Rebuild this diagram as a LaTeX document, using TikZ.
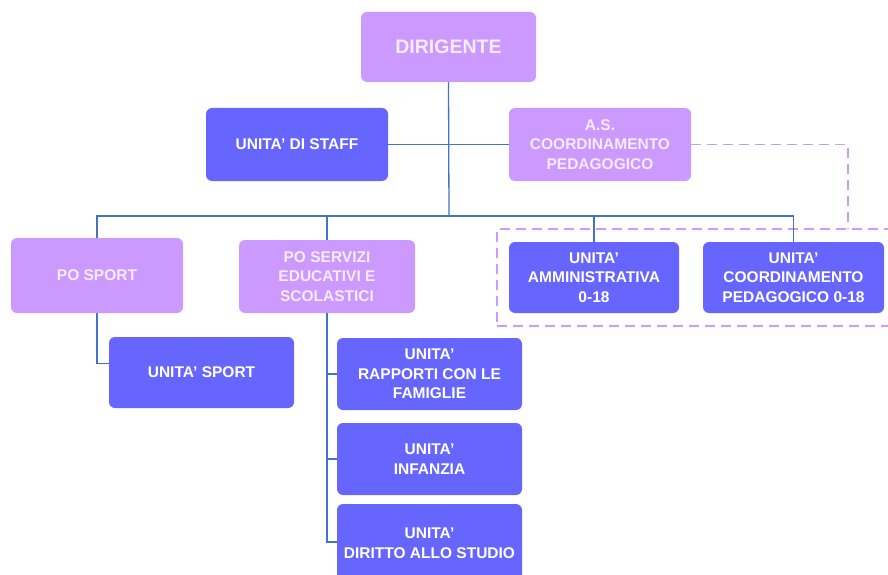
\documentclass[tikz,border=0pt]{standalone}
\usepackage{fontspec}
\setmainfont{Liberation Sans}
\begin{document}
\definecolor{lilac}{RGB}{204,153,255}
\definecolor{violet}{RGB}{102,102,255}
\definecolor{paletext}{RGB}{246,236,255}
\definecolor{wire}{RGB}{68,114,196}
\begin{tikzpicture}[x=1pt,y=-1pt,
  box/.style={rounded corners=6pt, inner sep=0pt, align=center,
    font=\fontsize{15.5}{19.5}\selectfont\bfseries},
  lbox/.style={box, fill=lilac, text=paletext},
  bbox/.style={box, fill=violet, text=white},
  wirestyle/.style={draw=wire, line width=1.3pt},
  dashline/.style={draw=lilac, line width=1.4pt, dash pattern=on 10pt off 6pt}]
\useasboundingbox (0,0) rectangle (888,575);

% boxes, placed by centre and size
\node[lbox, minimum width=175pt, minimum height=70pt,
      font=\fontsize{19.5}{22}\selectfont\bfseries] (dir) at (448.5,47) {DIRIGENTE};
\node[bbox, minimum width=182pt, minimum height=73pt] (staff) at (297,144.5) {UNITA’ DI STAFF};
\node[lbox, minimum width=182pt, minimum height=73pt] (as) at (600,144.5) {A.S.\\COORDINAMENTO\\PEDAGOGICO};

\node[lbox, minimum width=172pt, minimum height=75pt] (posport) at (97,275.5) {PO SPORT};
\node[lbox, minimum width=176pt, minimum height=73pt] (poserv) at (327,276.5) {PO SERVIZI\\EDUCATIVI E\\SCOLASTICI};
\node[bbox, minimum width=170pt, minimum height=71pt] (amm) at (594,277.5) {UNITA’\\AMMINISTRATIVA\\0-18};
\node[bbox, minimum width=181pt, minimum height=71pt] (coord) at (793.5,277.5) {UNITA’\\COORDINAMENTO\\PEDAGOGICO 0-18};

\node[bbox, minimum width=185pt, minimum height=71pt] (usport) at (201.5,372.5) {UNITA’ SPORT};
\node[bbox, minimum width=185pt, minimum height=72pt] (rapp) at (429.5,374) {UNITA’\\RAPPORTI CON LE\\FAMIGLIE};
\node[bbox, minimum width=185pt, minimum height=72pt] (inf) at (429.5,459) {UNITA’\\INFANZIA};
\node[bbox, minimum width=185pt, minimum height=78pt, text depth=0pt] (dirstud) at (429.5,543) {UNITA’\\DIRITTO ALLO STUDIO};

% dashed group around the 0-18 units
\node[draw=lilac, line width=1.4pt, dash pattern=on 10pt off 6pt,
      minimum width=398pt, minimum height=97pt, inner sep=0pt] (grp) at (696,277.5) {};
\coordinate (hub) at (449,216);
\coordinate (dk) at (848,229);

% connectors
\draw[wirestyle] (dir.south) -- (hub);
\draw[wirestyle] (staff.east) -- (as.west);
\draw[wirestyle] (posport.north) |- (hub) -| (coord.north);
\draw[wirestyle] (poserv.north) -- (poserv.north |- hub);
\draw[wirestyle] (amm.north) -- (amm.north |- hub);
\draw[wirestyle] (posport.south) |- ([yshift=9pt]usport.west);
\draw[wirestyle] (poserv.south) |- (rapp.west);
\draw[wirestyle] (poserv.south) |- (inf.west);
\draw[wirestyle] (poserv.south) |- ([yshift=1pt]dirstud.west);
\draw[dashline] (as.east) -| (dk);
\end{tikzpicture}
\end{document}
